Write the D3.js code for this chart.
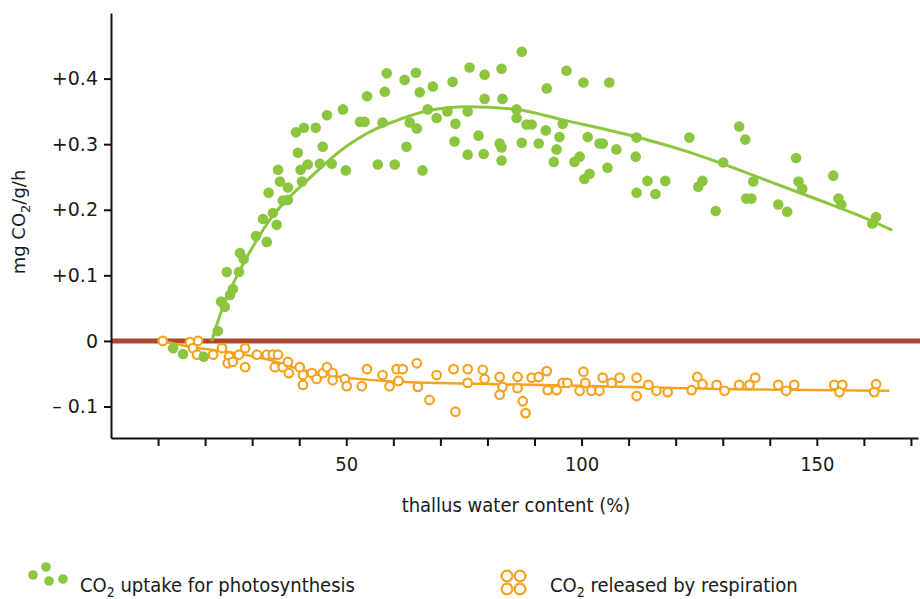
<!DOCTYPE html>
<html>
<head>
<meta charset="utf-8">
<title>Thallus water content vs CO2 exchange</title>
<script src="https://d3js.org/d3.v7.min.js"></script>
<style>
  body { margin: 0; background: #fff; }
  svg { display: block; }
  .axis path, .axis line { stroke: #111; stroke-width: 2; }
  .yaxis text { font-family: "DejaVu Sans", Verdana, sans-serif; font-size: 19px; fill: #1a1a1a; }
  .xaxis text { font-family: "Liberation Sans Narrow", "DejaVu Sans Condensed", sans-serif; font-size: 20px; fill: #1a1a1a; }
  .lbl { font-family: "Liberation Sans Narrow", "DejaVu Sans Condensed", sans-serif; font-size: 20px; fill: #1a1a1a; }
  .ylbl { font-family: "DejaVu Sans", Verdana, sans-serif; font-size: 18px; fill: #1a1a1a; }
</style>
</head>
<body>
<svg width="920" height="599"></svg>
<script>
// photosynthesis (green dots): [water content %, mg CO2/g/h]
var uptake = [
  [13.2,-0.011],[15.3,-0.020],[19.7,-0.024],[22.7,0.015],[23.4,0.060],[24.2,0.052],
  [24.6,0.105],[25.3,0.070],[25.9,0.079],[27.2,0.105],[27.4,0.134],[28.2,0.125],
  [30.8,0.160],[33.1,0.151],[32.3,0.186],[34.4,0.195],[35.2,0.177],[36.5,0.214],
  [37.6,0.215],[33.5,0.226],[35.9,0.243],[37.6,0.234],[35.5,0.261],[40.6,0.243],
  [40.3,0.261],[41.8,0.269],[44.4,0.270],[46.9,0.270],[49.9,0.260],[39.7,0.287],
  [45.0,0.296],[39.3,0.318],[41.0,0.325],[43.5,0.325],[45.9,0.344],[49.3,0.353],
  [52.9,0.334],[53.9,0.334],[57.7,0.333],[56.7,0.269],[60.3,0.269],[62.8,0.296],
  [63.5,0.333],[65.0,0.324],[58.6,0.408],[62.4,0.398],[64.8,0.409],[68.4,0.388],
  [72.6,0.395],[58.2,0.380],[65.6,0.379],[54.4,0.373],[67.3,0.353],[69.2,0.340],
  [71.5,0.350],[73.2,0.331],[73.0,0.304],[66.2,0.260],[76.2,0.417],[79.4,0.406],
  [83.0,0.415],[87.3,0.441],[79.4,0.369],[83.2,0.369],[75.8,0.350],[86.2,0.353],
  [86.2,0.340],[88.3,0.330],[89.4,0.330],[92.4,0.321],[96.0,0.331],[95.3,0.311],
  [101.3,0.311],[103.8,0.301],[104.5,0.301],[107.4,0.292],[111.7,0.310],[111.5,0.281],
  [92.6,0.385],[96.8,0.412],[100.4,0.394],[105.9,0.394],[78.1,0.313],[82.6,0.301],
  [83.0,0.295],[87.3,0.302],[90.9,0.301],[94.7,0.292],[75.8,0.284],[79.2,0.285],
  [83.0,0.275],[94.1,0.273],[98.5,0.273],[99.6,0.281],[100.6,0.247],[101.7,0.255],
  [105.5,0.264],[111.7,0.226],[114.0,0.244],[117.8,0.244],[115.7,0.224],[122.9,0.310],
  [124.8,0.235],[125.7,0.244],[128.5,0.198],[130.1,0.272],[133.5,0.327],[134.8,0.307],
  [135.0,0.217],[136.1,0.217],[136.5,0.243],[141.8,0.208],[143.7,0.197],[145.6,0.279],
  [146.1,0.243],[146.9,0.232],[153.5,0.252],[154.6,0.217],[155.2,0.208],[161.8,0.179],
  [162.6,0.189]
];

// respiration (orange rings)
var release = [
  [11.0,0.000],[16.8,-0.002],[18.5,0.000],[17.4,-0.011],[18.3,-0.021],[21.7,-0.021],
  [23.6,-0.011],[25.1,-0.024],[24.8,-0.034],[25.9,-0.032],[27.2,-0.021],[28.5,-0.011],
  [28.5,-0.040],[31.0,-0.021],[33.1,-0.021],[34.4,-0.021],[35.5,-0.021],[34.8,-0.040],
  [36.5,-0.040],[37.6,-0.032],[37.8,-0.049],[40.1,-0.040],[40.8,-0.052],[40.8,-0.067],
  [42.7,-0.049],[43.7,-0.058],[45.0,-0.049],[45.9,-0.040],[47.1,-0.049],[47.1,-0.060],
  [49.7,-0.058],[50.1,-0.069],[53.3,-0.069],[54.4,-0.043],[57.7,-0.052],[59.2,-0.069],
  [60.7,-0.043],[62.0,-0.043],[61.1,-0.061],[65.0,-0.034],[65.2,-0.070],[67.7,-0.090],
  [69.2,-0.052],[72.8,-0.043],[73.2,-0.108],[75.8,-0.043],[75.8,-0.064],[79.0,-0.044],
  [79.4,-0.058],[82.6,-0.055],[82.6,-0.082],[83.2,-0.070],[86.4,-0.055],[86.4,-0.072],
  [87.5,-0.092],[88.1,-0.110],[89.4,-0.056],[90.9,-0.055],[92.6,-0.046],[92.8,-0.075],
  [94.7,-0.075],[96.0,-0.064],[97.0,-0.064],[99.6,-0.076],[100.4,-0.047],[100.8,-0.064],
  [102.1,-0.076],[103.8,-0.076],[104.5,-0.056],[106.4,-0.064],[108.1,-0.056],[111.7,-0.056],
  [111.7,-0.084],[114.2,-0.067],[115.9,-0.076],[118.3,-0.078],[123.4,-0.075],[124.6,-0.055],
  [125.7,-0.066],[128.7,-0.067],[130.4,-0.076],[133.5,-0.067],[135.7,-0.067],[136.9,-0.056],
  [141.8,-0.067],[143.5,-0.076],[145.2,-0.067],[153.7,-0.067],[155.4,-0.067],[154.8,-0.078],
  [162.6,-0.066],[162.2,-0.078]
];

// fitted curves
var uptakeFit = [
  [21.4,0.000],[23.8,0.052],[27.4,0.108],[31.0,0.154],[34.4,0.191],[38.0,0.220],
  [41.6,0.244],[45.0,0.267],[48.6,0.289],[52.2,0.307],[56.5,0.324],[60.7,0.336],
  [67.3,0.351],[75.8,0.357],[86.2,0.353],[96.0,0.337],[111.7,0.311],[121,0.292],
  [130,0.270],[140,0.243],[150,0.216],[158,0.194],[166,0.169]
];
var releaseFit = [
  [11,0.000],[16.8,-0.009],[25.9,-0.018],[33.1,-0.028],[40.1,-0.043],[47.1,-0.053],
  [54.4,-0.059],[63.5,-0.063],[75.6,-0.065],[96.8,-0.068],[115,-0.071],[135.7,-0.074],
  [165.4,-0.076]
];

var yTicks = [0.4, 0.3, 0.2, 0.1, 0, -0.1];
var yTickLabels = ["+0.4", "+0.3", "+0.2", "+0.1", "0", "\u2013 0.1"];
var xTicks = d3.range(10, 171, 10);
var xLabelled = [50, 100, 150];

var green = "#8cc63f", orange = "#f6a21e", zeroRed = "#b0462f";

var svg = d3.select("svg");

var x = d3.scaleLinear().domain([0, 171.5]).range([111, 918]);
var y = d3.scaleLinear().domain([-0.148, 0.5]).range([438, 13]);

// zero line
svg.append("line")
    .attr("x1", x(0)).attr("x2", 920)
    .attr("y1", y(0)).attr("y2", y(0))
    .attr("stroke", zeroRed).attr("stroke-width", 5);

// axes
svg.append("g")
    .attr("class", "axis yaxis")
    .attr("transform", "translate(" + x(0) + ",0)")
    .call(d3.axisLeft(y)
      .tickValues(yTicks)
      .tickSize(7).tickSizeOuter(0).tickPadding(6)
      .tickFormat(function(d, i) { return yTickLabels[i]; }));

svg.append("g")
    .attr("class", "axis xaxis")
    .attr("transform", "translate(0," + y(-0.148) + ")")
    .call(d3.axisBottom(x)
      .tickValues(xTicks)
      .tickSize(8).tickSizeOuter(0).tickPadding(11)
      .tickFormat(function(d) { return xLabelled.indexOf(d) >= 0 ? d : ""; }));

// fitted lines
var line = d3.line()
    .x(function(d) { return x(d[0]); })
    .y(function(d) { return y(d[1]); })
    .curve(d3.curveMonotoneX);

svg.append("path").datum(releaseFit)
    .attr("d", line).attr("fill", "none")
    .attr("stroke", orange).attr("stroke-width", 2.5);

// points
svg.append("g").selectAll("circle")
  .data(release)
  .enter().append("circle")
    .attr("cx", function(d) { return x(d[0]); })
    .attr("cy", function(d) { return y(d[1]); })
    .attr("r", 4.3)
    .attr("fill", "#fff")
    .attr("stroke", orange).attr("stroke-width", 2.2);

svg.append("g").selectAll("circle")
  .data(uptake)
  .enter().append("circle")
    .attr("cx", function(d) { return x(d[0]); })
    .attr("cy", function(d) { return y(d[1]); })
    .attr("r", 5.3)
    .attr("fill", green);

svg.append("path").datum(uptakeFit)
    .attr("d", line).attr("fill", "none")
    .attr("stroke", green).attr("stroke-width", 3);

// axis titles
var yl = svg.append("text")
    .attr("class", "ylbl")
    .attr("transform", "translate(25,222) rotate(-90)")
    .attr("text-anchor", "middle");
yl.append("tspan").text("mg CO");
yl.append("tspan").attr("dy", 5).attr("font-size", 13).text("2");
yl.append("tspan").attr("dy", -5).text("/g/h");

svg.append("text")
    .attr("class", "lbl")
    .attr("x", 516).attr("y", 512)
    .attr("text-anchor", "middle")
    .text("thallus water content (%)");

// legend
var legDots = [[33,575],[46,567],[49,581],[63,579]];
svg.append("g").selectAll("circle")
  .data(legDots)
  .enter().append("circle")
    .attr("cx", function(d) { return d[0]; })
    .attr("cy", function(d) { return d[1]; })
    .attr("r", 4.8).attr("fill", green);

var legRings = [[507,576],[507,589],[520,576],[520,589]];
svg.append("g").selectAll("circle")
  .data(legRings)
  .enter().append("circle")
    .attr("cx", function(d) { return d[0]; })
    .attr("cy", function(d) { return d[1]; })
    .attr("r", 5.4).attr("fill", "#fff")
    .attr("stroke", orange).attr("stroke-width", 2.2);

function legendText(xPos, rest) {
  var t = svg.append("text").attr("class", "lbl").attr("x", xPos).attr("y", 592);
  t.append("tspan").text("CO");
  t.append("tspan").attr("dy", 5).attr("font-size", 14).text("2");
  t.append("tspan").attr("dy", -5).text(" " + rest);
}
legendText(80, "uptake for photosynthesis");
legendText(550, "released by respiration");
</script>
</body>
</html>
